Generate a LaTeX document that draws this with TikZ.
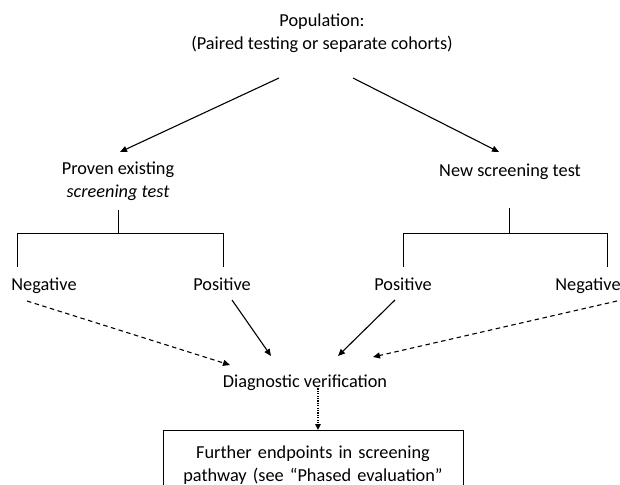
\documentclass[tikz,border=0pt]{standalone}
\usepackage{fontspec}
\setmainfont{Carlito}
\usetikzlibrary{arrows.meta}
\begin{document}
\begin{tikzpicture}[x=1pt,y=-1pt,
  lbl/.style={inner sep=0pt, align=center, font=\fontsize{18.3}{22.5}\selectfont},
  blbl/.style={lbl, anchor=base},
  arr/.style={line width=1.1pt, -{Triangle[length=7pt,width=6pt]}},
  dasharr/.style={arr, dash pattern=on 4.5pt off 3.5pt},
  dotarr/.style={line width=1.3pt, dash pattern=on 1.2pt off 1.2pt, -{Triangle[length=6pt,width=5.5pt]}},
  tree/.style={line width=0.8pt},
  boxstyle/.style={draw, line width=0.9pt, minimum width=300pt, minimum height=69pt, anchor=north, text width=290pt, align=center, inner sep=0pt, font=\fontsize{18.3}{22.5}\selectfont}]
\useasboundingbox (0,0) rectangle (620,484);
\clip (0,0) rectangle (620,484);
\fill[white] (0,0) rectangle (620,484);

% nodes
\node[lbl] (pop) at (322,33) {Population:\\(Paired testing or separate cohorts)};
\node[lbl] (proven) at (118,181) {Proven existing\\\textit{screening test}};
\node[blbl] (new) at (510,176) {New screening test};
\node[blbl] (negL) at (44,290) {Negative};
\node[blbl] (posL) at (222,290) {Positive};
\node[blbl] (posR) at (403,290) {Positive};
\node[blbl] (negR) at (588,290) {Negative};
\node[blbl] (diag) at (305,387) {Diagnostic verification};
\node[boxstyle] (box) at (313,430) {Further endpoints in screening\\pathway (see \textquotedblleft Phased evaluation\textquotedblright};

% connector end points
\coordinate (popL) at (279,78);
\coordinate (popR) at (353,78);
\coordinate (provenIn) at (120,152);
\coordinate (newIn) at (499,152);

\coordinate (provenOut) at (118,210);
\coordinate (provenJ) at (118,233);
\coordinate (lLa) at (17,233);
\coordinate (lLb) at (17,267);
\coordinate (lRa) at (223,233);
\coordinate (lRb) at (223,267);

\coordinate (newOut) at (509,208);
\coordinate (newJ) at (509,233);
\coordinate (rLa) at (403,233);
\coordinate (rLb) at (403,267);
\coordinate (rRa) at (607,233);
\coordinate (rRb) at (607,267);

\coordinate (negLout) at (27,301);
\coordinate (posLout) at (232,300);
\coordinate (posRout) at (395,300);
\coordinate (negRout) at (617,301);
\coordinate (diagA) at (230,365);
\coordinate (diagB) at (271,356);
\coordinate (diagC) at (338,356);
\coordinate (diagD) at (373,357);
\coordinate (diagOut) at (318,386);

% arrows from population
\draw[arr] (popL) -- (provenIn);
\draw[arr] (popR) -- (newIn);

% trees
\draw[tree] (provenOut) -- (provenJ);
\draw[tree] (lLb) -- (lLa) -- (lRa) -- (lRb);
\draw[tree] (newOut) -- (newJ);
\draw[tree] (rLb) -- (rLa) -- (rRa) -- (rRb);

% to verification
\draw[dasharr] (negLout) -- (diagA);
\draw[arr] (posLout) -- (diagB);
\draw[arr] (posRout) -- (diagC);
\draw[dasharr] (negRout) -- (diagD);

% to box
\draw[dotarr] (diagOut) -- (box.north -| diagOut);
\end{tikzpicture}
\end{document}
